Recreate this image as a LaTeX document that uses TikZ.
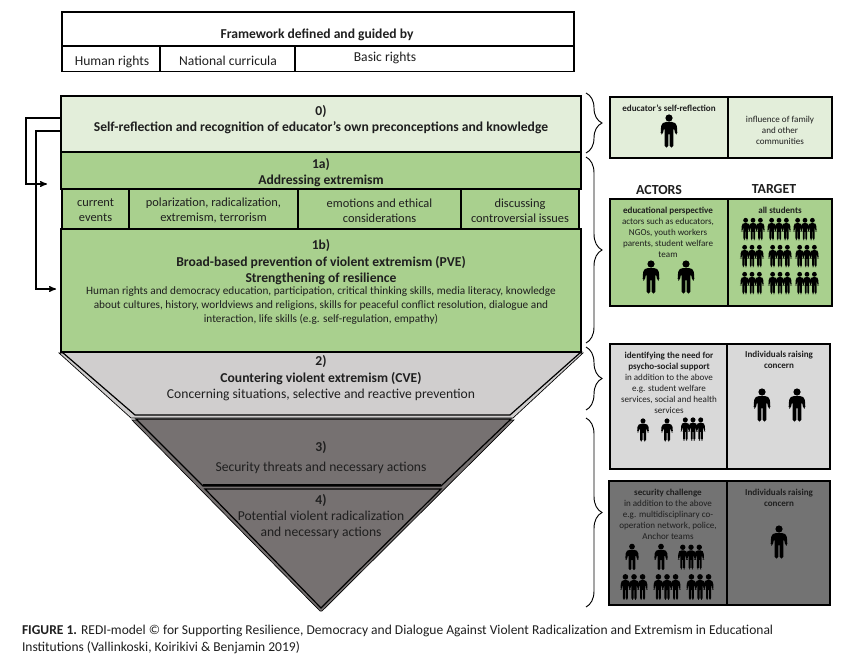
\documentclass[tikz,border=0pt]{standalone}
\usepackage{fontspec}
\setmainfont{Carlito}
\usetikzlibrary{arrows,decorations.pathreplacing}
\definecolor{paleGreen}{HTML}{E3EEDA}
\definecolor{midGreen}{HTML}{A9D08E}
\definecolor{paleGray}{HTML}{D9D9D9}
\definecolor{warmGray}{HTML}{D0CECE}
\definecolor{darkGray}{HTML}{767171}
\definecolor{panelDark}{HTML}{737373}
\tikzstyle{every node} = [inner sep=0pt, outer sep=0pt, align=center, text=black!88]
\tikzstyle{cell} = [draw=black, line width=1.1pt]
\tikzstyle{bigbold} = [font=\fontsize{10.2}{12.4}\selectfont\bfseries]
\tikzstyle{big} = [font=\fontsize{10.2}{12.4}\selectfont]
\tikzstyle{body} = [font=\fontsize{8.45}{10.5}\selectfont]
\tikzstyle{topic} = [font=\fontsize{9.3}{11.2}\selectfont]
\tikzstyle{small} = [font=\fontsize{6.8}{8.25}\selectfont]
\tikzstyle{edge} = [line width=.9pt, line join=miter]
\tikzstyle{bracket} = [line width=.7pt, decorate, decoration={brace, amplitude=12pt}]
\newcommand{\figurehead}{\fill[black] (0,-13) circle (3.6);}
\newcommand{\figurebody}{
    \fill[black, rounded corners=1.2] (-4.5,-9) -- (4.5,-9) -- (7.8,-6.5) -- (8.4,3.5) -- (6.3,3.5) -- (5,-3) -- (4.3,-3)
        -- (4.3,16.5) -- (.7,16.5) -- (.7,2) -- (-.7,2) -- (-.7,16.5) -- (-4.3,16.5) -- (-4.3,-3) -- (-5,-3)
        -- (-6.3,3.5) -- (-8.4,3.5) -- (-7.8,-6.5) -- cycle;
}
\tikzset{
    person/.pic={\figurehead \figurebody},
    trio/.pic={
        \foreach \d in {-11,11,0} {
            \begin{scope}[shift={(\d,0)}]
                \figurehead
                \begin{scope}[xscale=.75]\figurebody\end{scope}
            \end{scope}
        }
    }
}

\begin{document}
\begin{tikzpicture}[x=.75pt, y=-.75pt]
    \useasboundingbox (0,0) rectangle (841,663);

    % framework box
    \node[cell, minimum width=384pt, minimum height=25.5pt] (frame) at (318,29) {};
    \node[cell, minimum width=73.5pt, minimum height=19pt] (human) at (111,59) {};
    \node[cell, minimum width=101.25pt, minimum height=19pt] (curricula) at (227.5,59) {};
    \node[cell, minimum width=209.25pt, minimum height=19pt] (basic) at (434.5,59) {};
    \node[bigbold] (frametitle) at (317,34.5) {Framework defined and guided by};
    \node[big] (humantext) at (112,62) {Human rights};
    \node[big] (curriculatext) at (228,61) {National curricula};
    \node[big] (basictext) at (385,58) {Basic rights};

    % pyramid, back layer first
    \filldraw[fill=warmGray, draw=black, line width=.5pt] (59,353) -- (583,353) -- (513,418) -- (131,418) -- cycle;
    \filldraw[fill=warmGray, draw=black, line width=.9pt] (62,352) -- (581,352) -- (510,415) -- (135,415) -- cycle;
    \filldraw[fill=darkGray, draw=black, line width=.5pt] (132,420) -- (514,420) -- (322,611) -- (320,611) -- cycle;
    \filldraw[fill=darkGray, draw=black, line width=.9pt] (136,419) -- (511,419) -- (441,486) -- (203,486) -- cycle;
    \filldraw[fill=darkGray, draw=black, line width=.9pt] (205,489) -- (441,489) -- (321,608) -- cycle;
    \draw[line width=1.2pt] (203,485) -- (441,485);
    \node[bigbold] (trapTwoNum) at (321,361.5) {2)};
    \node[bigbold] (trapTwoTitle) at (321,378.5) {Countering violent extremism (CVE)};
    \node[big] (trapTwoText) at (321,394.5) {Concerning situations, selective and reactive prevention};
    \node[bigbold] (trapThreeNum) at (321,447) {3)};
    \node[big] (trapThreeText) at (321,467.5) {Security threats and necessary actions};
    \node[bigbold] (trapFourNum) at (321,500) {4)};
    \node[big] (trapFourText) at (321,525) {Potential violent radicalization\\and necessary actions};

    % sections
    \node[cell, fill=paleGreen, minimum width=390pt, minimum height=42pt] (sectzero) at (321,124) {};
    \node[cell, fill=midGreen, minimum width=390pt, minimum height=27.75pt] (sectonea) at (321,170.5) {};
    \node[cell, fill=midGreen, minimum width=390pt, minimum height=92.25pt] (sectoneb) at (321,290.5) {};
    \node[bigbold] (zerotitle) at (321,119.5) {0)\\Self-reflection and recognition of educator’s own preconceptions and knowledge};
    \node[bigbold] (oneatitle) at (321,172.5) {1a)\\Addressing extremism};
    \node[cell, fill=midGreen, minimum width=50.25pt, minimum height=30pt] (events) at (95.5,209) {};
    \node[cell, fill=midGreen, minimum width=126.75pt, minimum height=30pt] (polar) at (213.5,209) {};
    \node[cell, fill=midGreen, minimum width=122.25pt, minimum height=30pt] (emotions) at (379.5,209) {};
    \node[cell, fill=midGreen, minimum width=88.5pt, minimum height=30pt] (discuss) at (520,209) {};
    \node[topic] (eventstext) at (95.5,210.5) {current\\events};
    \node[topic] (polartext) at (213.5,210.5) {polarization, radicalization,\\extremism, terrorism};
    \node[topic] (emotionstext) at (379.5,210.5) {emotions and ethical\\considerations};
    \node[topic] (discusstext) at (520,210.5) {discussing\\controversial issues};
    \node[bigbold] (onebtitle) at (321,262.5) {1b)\\Broad-based prevention of violent extremism (PVE)\\Strengthening of resilience};
    \node[body] (onebtext) at (321,306) {Human rights and democracy education, participation, critical thinking skills, media literacy, knowledge\\about cultures, history, worldviews and religions, skills for peaceful conflict resolution, dialogue and\\interaction, life skills (e.g. self-regulation, empathy)};

    % feedback arrows
    \coordinate (inonea) at (47,184);
    \coordinate (inoneb) at (56,289);
    \draw[edge, ->, >=stealth'] ([yshift=4.5pt]sectzero.west) -- ++(-35,0) |- (inonea);
    \draw[edge, ->, >=stealth'] ([yshift=-5.25pt]sectzero.west) -- ++(-25,0) |- (inoneb);

    % braces
    \draw[bracket] (586,93) -- (586,153);
    \draw[bracket] (586,157) -- (586,343);
    \draw[bracket] (586,347) -- (586,410);
    \draw[bracket] (586,418) -- (586,607);

    % right hand panels
    \node[cell, fill=paleGreen, minimum width=88.5pt, minimum height=45.75pt] (selfleft) at (669,127.5) {};
    \node[cell, fill=paleGreen, minimum width=78pt, minimum height=45.75pt] (selfright) at (780,127.5) {};
    \node[cell, fill=midGreen, minimum width=88.5pt, minimum height=80.25pt] (actorleft) at (669,252.5) {};
    \node[cell, fill=midGreen, minimum width=78pt, minimum height=80.25pt] (actorright) at (780,252.5) {};
    \node[cell, fill=paleGray, minimum width=87.75pt, minimum height=93.75pt] (needleft) at (668.5,406.5) {};
    \node[cell, fill=paleGray, minimum width=77.25pt, minimum height=93.75pt] (needright) at (778.5,406.5) {};
    \node[cell, fill=panelDark, minimum width=88.5pt, minimum height=93pt] (secleft) at (668,543) {};
    \node[cell, fill=panelDark, minimum width=77.25pt, minimum height=93pt] (secright) at (778.5,543) {};

    \node[font=\fontsize{10.4}{12}\selectfont\bfseries] (actors) at (659,190) {ACTORS};
    \node[font=\fontsize{10.4}{12}\selectfont\bfseries] (target) at (774,189) {TARGET};

    \node[small, anchor=north] (selflefttext) at (669,105) {\bfseries educator’s self-reflection};
    \node[small] (selfrighttext) at (780,130.5) {influence of family\\and other\\communities};
    \node[small, anchor=north] (actorlefttext) at (668,207.5) {\textbf{educational perspective}\\actors such as educators,\\NGOs, youth workers\\parents, student welfare\\team};
    \node[small, anchor=north] (actorrighttext) at (780,207.5) {\bfseries all students};
    \node[small, anchor=north] (needlefttext) at (669,352) {\textbf{identifying the need for}\\\textbf{psycho-social support}\\in addition to the above\\e.g. student welfare\\services, social and health\\services};
    \node[small, anchor=north] (needrighttext) at (779,351) {\bfseries Individuals raising\\\bfseries concern};
    \node[small, anchor=north] (seclefttext) at (668,489) {\textbf{security challenge}\\in addition to the above\\e.g. multidisciplinary co-\\operation network, police,\\Anchor teams};
    \node[small, anchor=north] (secrighttext) at (779,489) {\bfseries Individuals raising\\\bfseries concern};

    % people
    \pic at (669,131) {person};
    \pic at (651,277) {person};
    \pic at (686,277) {person};
    \foreach \x in {753,779,805} \pic[scale=.67] at (\x,229) {trio};
    \foreach \y in {256,283} \foreach \x in {752,780,807} \pic[scale=.67] at (\x,\y) {trio};
    \pic[scale=.7] at (643,430) {person};
    \pic[scale=.7] at (667,430) {person};
    \pic[scale=.7] at (693,429) {trio};
    \pic at (762,405) {person};
    \pic at (797,405) {person};
    \pic[scale=.8] at (632,557) {person};
    \pic[scale=.8] at (661,557) {person};
    \pic[scale=.75] at (691,557) {trio};
    \foreach \x in {634,667,700} \pic[scale=.78] at (\x,587) {trio};
    \pic at (779,542) {person};

    % caption
    \node[anchor=north west, align=left, font=\fontsize{10.15}{12.6}\selectfont] (caption) at (22,625.5)
        {\textbf{FIGURE 1.} REDI-model © for Supporting Resilience, Democracy and Dialogue Against Violent Radicalization and Extremism in Educational\\Institutions (Vallinkoski, Koirikivi \& Benjamin 2019)};
\end{tikzpicture}
\end{document}
